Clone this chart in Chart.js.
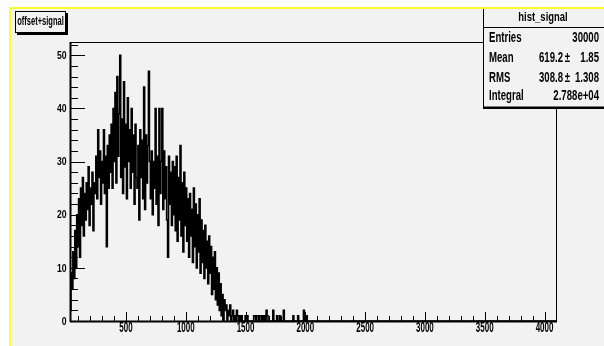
<!DOCTYPE html>
<html>
<head>
<meta charset="utf-8">
<title>hist_signal</title>
<script src="https://cdn.jsdelivr.net/npm/chart.js@4/dist/chart.umd.min.js"></script>
<style>
  html, body { margin: 0; padding: 0; background: #ffffff; }
  #wrap { position: relative; width: 604px; height: 346px; overflow: hidden; }
  #pad {
    position: absolute; left: 9px; top: 7px; right: -4px; bottom: -4px;
    background: #f2f2f2;
    border-top: 2px solid #ffff2e;
    border-left: 2px solid #ffff2e;
  }
  #plot { position: absolute; left: 0; top: 0; }
</style>
</head>
<body>
<div id="wrap">
  <div id="pad"></div>
  <canvas id="plot" width="604" height="346"></canvas>
</div>
<script>
// histogram binning (x range of the pad)
const xLow = 32;
const xHigh = 4096;
const binWidth = 8;

// counts per 8-wide bin from 32 up to 1440
const signalCounts = [
  2, 9, 6, 13, 8, 17, 10, 20,
  14, 23, 12, 25, 18, 27, 16, 24,
  19, 26, 21, 29, 18, 25, 22, 28, 17, 26,
  24, 31, 23, 36, 27, 32, 22, 30, 26, 36, 24, 31, 14, 33, 25, 35,
  28, 37, 25, 40, 30, 43, 26, 46, 31, 39,
  50,
  27, 38, 24, 45, 29, 37, 23, 42, 30, 36, 25, 40, 28, 35, 22, 37, 27,
  25, 33, 19, 36, 27, 34, 23, 44, 21, 35, 26, 33, 47, 30,
  23, 32, 20, 30, 25, 40, 22, 31, 18, 40, 24, 30, 40, 21, 32, 23, 29, 19, 12, 31, 22, 28, 18, 30,
  20, 29, 17, 31, 15, 27, 19, 33, 16, 26, 13, 28, 18, 25,
  15, 23, 12, 24, 16, 21, 11, 25, 14, 22, 10, 20, 13, 23,
  9, 19, 11, 17, 8, 18, 10, 15, 7, 16, 9, 14, 5, 12, 6, 13, 4, 10, 3, 9, 2, 7,
  1, 5, 0, 4, 2, 3, 0, 2, 1, 3, 0, 1, 2, 0, 1, 0, 2, 1
];

// sparse tail: bin low edges and their counts
const tailEdges = [1448, 1464, 1496, 1512, 1568, 1576, 1592, 1600, 1616, 1624, 1640, 1656, 1672, 1680, 1728, 1760, 1784, 1816, 1896, 1936, 1984, 2008];
const tailCounts = [1, 1, 1, 1, 1, 1, 1, 1, 1, 1, 1, 1, 2, 1, 2, 1, 1, 2, 1, 1, 2, 1];

const xLabels = [500, 1000, 1500, 2000, 2500, 3000, 3500, 4000];
const yLabels = [0, 10, 20, 30, 40, 50];

const statsRows = [
  ['Entries', '30000'],
  ['Mean', '619.2', '1.85'],
  ['RMS', '308.8', '1.308'],
  ['Integral', '2.788e+04']
];

// fill the full bin array
const nBins = (xHigh - xLow) / binWidth;
const counts = new Array(nBins).fill(0);
signalCounts.forEach((c, i) => { counts[i] = c; });
tailEdges.forEach((e, i) => { counts[(e - xLow) / binWidth] = tailCounts[i]; });

// step outline: each point holds its value until the next edge
const points = [{ x: xLow, y: 0 }];
counts.forEach((c, i) => points.push({ x: xLow + i * binWidth, y: c }));
points.push({ x: xHigh, y: 0 });

const FONT = '"Liberation Sans", Arial, sans-serif';

function squeezed(ctx, str, x, y, size, sx, align) {
  ctx.save();
  ctx.font = 'bold ' + size + 'px ' + FONT;
  ctx.textAlign = align;
  ctx.textBaseline = 'middle';
  ctx.fillStyle = '#000';
  ctx.translate(x, y);
  ctx.scale(sx, 1);
  ctx.fillText(str, 0, 0);
  ctx.restore();
}

function line(ctx, x1, y1, x2, y2, w) {
  ctx.lineWidth = w;
  ctx.beginPath();
  ctx.moveTo(x1, y1);
  ctx.lineTo(x2, y2);
  ctx.stroke();
}

// frame, inward ticks, labels, title and stats boxes
const rootStyle = {
  id: 'rootStyle',
  afterDatasetsDraw(chart) {
    const ctx = chart.ctx;
    const a = chart.chartArea;
    const xs = chart.scales.x, ys = chart.scales.y;
    ctx.save();
    ctx.strokeStyle = '#000';

    // frame
    line(ctx, a.left, a.top + 0.5, a.right, a.top + 0.5, 1);
    line(ctx, a.right + 0.5, a.top, a.right + 0.5, a.bottom, 1);
    line(ctx, a.left, a.bottom + 0.5, a.right + 1, a.bottom + 0.5, 2);
    line(ctx, a.left + 0.5, a.top, a.left + 0.5, a.bottom + 1, 2);

    // x ticks every 100, long ones every 500
    for (let v = 100; v <= 4000; v += 100) {
      const px = Math.round(xs.getPixelForValue(v)) + 0.5;
      const len = v % 500 === 0 ? 9 : 5;
      line(ctx, px, a.bottom, px, a.bottom - len, 1);
    }
    // y ticks every 2, long ones every 10
    for (let v = 0; v <= 52; v += 2) {
      const py = Math.round(ys.getPixelForValue(v)) + 0.5;
      const len = v % 10 === 0 ? 15 : 8;
      line(ctx, a.left, py, a.left + len, py, 1);
    }

    xLabels.forEach(v => squeezed(ctx, String(v), xs.getPixelForValue(v), a.bottom + 7, 14, 0.57, 'center'));
    yLabels.forEach(v => squeezed(ctx, String(v), a.left - 3.5, ys.getPixelForValue(v) + 0.5, 11.5, 0.75, 'right'));

    // title box with shadow
    ctx.fillStyle = '#000';
    ctx.fillRect(17, 13, 51, 22);
    ctx.fillStyle = '#f2f2f2';
    ctx.fillRect(15, 11, 51, 22);
    ctx.strokeRect(15.5, 11.5, 50, 21);
    squeezed(ctx, 'offset+signal', 40.5, 22, 12.5, 0.6, 'center');

    // stats box
    ctx.fillStyle = '#000';
    ctx.fillRect(483, 9, 125, 100);
    ctx.fillStyle = '#f2f2f2';
    ctx.fillRect(484, 9, 124, 97.5);
    line(ctx, 483.5, 9, 483.5, 107, 1);
    line(ctx, 483, 27.5, 604, 27.5, 1);
    squeezed(ctx, 'hist_signal', 543, 17.5, 13.5, 0.7, 'center');
    const rowY = [38, 58, 77.5, 96];
    statsRows.forEach((r, i) => {
      squeezed(ctx, r[0], 489, rowY[i], 15, 0.64, 'left');
      if (r.length === 2) {
        squeezed(ctx, r[1], 599, rowY[i], 15, 0.64, 'right');
      } else {
        squeezed(ctx, r[1], 563, rowY[i], 15, 0.64, 'right');
        squeezed(ctx, '\u00b1', 567.5, rowY[i], 15, 0.64, 'center');
        squeezed(ctx, r[2], 599, rowY[i], 15, 0.64, 'right');
      }
    });
    ctx.restore();
  }
};

new Chart(document.getElementById('plot'), {
  type: 'line',
  data: {
    datasets: [{
      label: 'hist_signal',
      data: points,
      stepped: true,
      borderColor: '#000000',
      borderWidth: 1.6,
      pointRadius: 0,
      fill: false
    }]
  },
  options: {
    responsive: false,
    animation: false,
    devicePixelRatio: 1,
    layout: { padding: { left: 70, top: 42, right: 48, bottom: 25 } },
    plugins: { legend: { display: false }, tooltip: { enabled: false } },
    scales: {
      x: { type: 'linear', min: xLow, max: xHigh, display: false },
      y: { type: 'linear', min: 0, max: 52.5, display: false }
    }
  },
  plugins: [rootStyle]
});
</script>
</body>
</html>
